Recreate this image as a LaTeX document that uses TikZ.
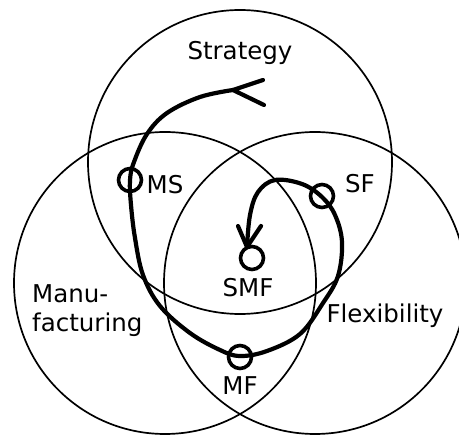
\documentclass[tikz,border=0pt]{standalone}
\usepackage{fontspec}
\setmainfont{DejaVu Sans}
\begin{document}
\begin{tikzpicture}[x=1pt,y=-1pt,
  region/.style={line width=1.7pt},
  flow/.style={line width=4.2pt, line cap=round, line join=round},
  marker/.style={circle, draw, line width=3.6pt, minimum size=23pt, inner sep=0pt},
  lbl/.style={font=\fontsize{24.5}{28}\selectfont, anchor=base, inner sep=0pt}]
\useasboundingbox (0,0) rectangle (459,436);
% regions
\draw[region] (240,162) circle[radius=152];
\draw[region] (165,283) circle[radius=151];
\draw[region] (315,283) circle[radius=151];
% labels
\node[lbl] (strategy) at (240,60) {Strategy};
\node[lbl, anchor=base west] (manu) at (32,303) {Manu-};
\node[lbl, anchor=base west] (fact) at (32,332) {facturing};
\node[lbl] (flex) at (385,323) {Flexibility};
\node[lbl] (msl) at (165,194) {MS};
\node[lbl] (sfl) at (360,193) {SF};
\node[lbl] (smfl) at (248,297) {SMF};
\node[lbl] (mfl) at (240,395) {MF};
% trajectory
\coordinate (start) at (233,90);
\coordinate (tip) at (247,247);
\draw[flow] plot[smooth, tension=0.6] coordinates {
  (start) (200,97) (167,113) (147,134) (134,162) (130,180) (131,205) (135,238)
  (143,275) (160,306) (190,333) (220,350) (240,356) (267,351) (300,334)
  (323,303) (338,276) (342,242) (335,215) (322,197) (302,184) (275,180)
  (258,192) (250,215) (tip)};
\draw[flow] (263,80) -- (start) -- (264,105);
\draw[flow] (238,226) -- (tip) -- (261,226);
% markers
\node[marker] (ms) at (130,180) {};
\node[marker] (sf) at (322,196) {};
\node[marker] (smf) at (252,258) {};
\node[marker] (mf) at (240,357) {};
\end{tikzpicture}
\end{document}
